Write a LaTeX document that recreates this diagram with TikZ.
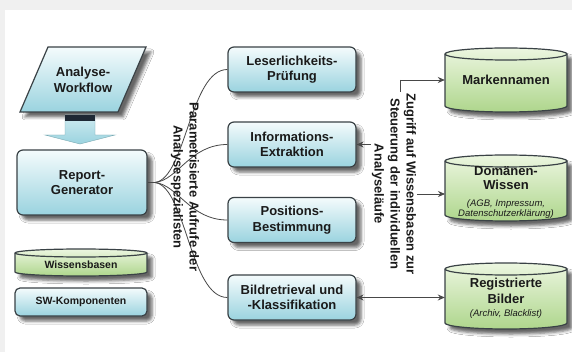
\documentclass[tikz,border=0pt]{standalone}
\usepackage{fontspec}
\setmainfont{Liberation Sans}
\usetikzlibrary{arrows.meta,shadows.blur,calc}
\definecolor{boxtop}{RGB}{244,251,252}
\definecolor{boxbot}{RGB}{154,211,223}
\definecolor{cyltop}{RGB}{236,246,224}
\definecolor{cylbot}{RGB}{174,214,140}
\definecolor{edge}{RGB}{58,66,70}
\definecolor{txt}{RGB}{26,26,26}
\definecolor{conn}{RGB}{72,72,72}
\definecolor{frame}{RGB}{240,240,240}
\definecolor{band}{RGB}{30,40,52}
\newcommand\smi{\itshape\mdseries\fontsize{9.5}{10.5}\selectfont}
\newcommand\drawcyl[5]{%
  \path[cylfill] (#1,{#2+#5}) -- (#1,{#4-#5})
     arc[start angle=180,end angle=0,x radius={(#3-#1)/2},y radius=#5]
     -- (#3,{#2+#5})
     arc[start angle=0,end angle=-180,x radius={(#3-#1)/2},y radius=#5] -- cycle;
  \draw[cyledge] (#1,{#2+#5}) arc[start angle=180,end angle=0,x radius={(#3-#1)/2},y radius=#5];
}
\begin{document}
\begin{tikzpicture}[x=1pt,y=-1pt,
  shd/.style={blur shadow={shadow xshift=5pt,shadow yshift=-5pt,shadow blur radius=3pt,shadow opacity=60}},
  comp/.style={draw=edge,line width=1.2pt,rounded corners=6pt,top color=boxtop,bottom color=boxbot,shd,
     minimum width=128pt,minimum height=45pt,align=center,inner sep=1pt,
     font=\bfseries\fontsize{13}{15.5}\selectfont,text=txt},
  cylfill/.style={draw=edge,line width=1.2pt,top color=cyltop,bottom color=cylbot,shd},
  cyledge/.style={draw=edge,line width=1.2pt},
  cyltxt/.style={align=center,inner sep=0pt,font=\bfseries\fontsize{13}{14}\selectfont,text=txt},
  conn/.style={draw=conn,line width=0.8pt},
  tip/.style={-{Stealth[length=7pt,width=6pt]}},
  vtext/.style={rotate=-90,align=center,inner sep=1pt,font=\bfseries\fontsize{13}{16}\selectfont,text=txt}
]
\useasboundingbox (0,0) rectangle (572,352);
\fill[frame] (0,0) rectangle (572,352);
\fill[white] (5,10) rectangle (572,352);

% Analyse-Workflow parallelogram
\path[draw=edge,line width=1.2pt,top color=boxtop,bottom color=boxbot,shd]
  (48,47) -- (146,47) -- (118,112) -- (20,112) -- cycle;
\node[align=center,font=\bfseries\fontsize{13}{16}\selectfont,text=txt] (aw) at (83,80) {Analyse-\\Workflow};

% fat arrow
\path[top color=boxtop!60!boxbot,bottom color=boxbot,draw=boxbot!80!black,line width=0.4pt]
  (65,115) -- (95,115) -- (95,135) -- (115,135) -- (80,144) -- (45,135) -- (65,135) -- cycle;
\fill[band] (65,115) rectangle (95,121);

% Report-Generator
\node[comp,minimum width=130pt,minimum height=65pt] (rg) at (82,182.5) {Report-\\Generator};

% legend
\drawcyl{15}{249}{147}{276}{4}
\node[cyltxt,font=\bfseries\fontsize{10.5}{12}\selectfont] (wb) at (81,265) {Wissensbasen};
\node[comp,minimum width=132pt,minimum height=28pt,rounded corners=5pt,
  font=\bfseries\fontsize{10.5}{12}\selectfont] (sw) at (81,302) {SW-Komponenten};

% middle components
\node[comp] (lp) at (292,69.5) {Leserlichkeits-\\Prüfung};
\node[comp] (ie) at (292,144.5) {Informations-\\Extraktion};
\node[comp] (pb) at (292,220) {Positions-\\Bestimmung};
\node[comp] (bk) at (292,297.5) {Bildretrieval und\\-Klassifikation};

% knowledge bases
\drawcyl{445}{48}{567}{112}{6}
\node[cyltxt,minimum width=122pt,minimum height=64pt] (mk) at (506,80) {Markennamen};
\drawcyl{445}{155}{567}{221}{6}
\node[cyltxt,minimum width=122pt] (dw) at (506,192) {Domänen-\\Wissen\\[3pt]{\smi (AGB, Impressum,}\\[-4pt]{\smi Datenschutzerklärung)}};
\drawcyl{445}{263}{567}{329}{6}
\node[cyltxt,minimum width=122pt] (rb) at (506,298) {Registrierte\\[2pt]Bilder\\[-1pt]{\smi (Archiv, Blacklist)}};

% left fan
\coordinate (j) at (155,182.5);
\draw[conn] (rg.east) -- (j);
\draw[conn] (j) .. controls (186,178) and (190,69.5) .. (lp.west);
\draw[conn] (j) .. controls (178,180) and (190,144.5) .. (ie.west);
\draw[conn] (j) .. controls (178,185) and (190,220) .. (pb.west);
\draw[conn] (j) .. controls (186,187) and (190,297.5) .. (bk.west);
\node[vtext] (t1) at (185,187) {Parametrisierte Aufrufe der\\Analysespezialisten};

% right connectors
\coordinate (vt) at (400,80);
\coordinate (vb) at (400,270);
\coordinate (dwin) at (445,194);
\draw[conn] (vt) -- (vb);
\draw[conn,tip] (vt) -- (mk.west);
\draw[conn,tip] (vt |- ie.east) -- (ie.east);
\draw[conn,tip] (vt |- dwin) -- (dwin);
\draw[conn,{Stealth[length=7pt,width=6pt]}-{Stealth[length=7pt,width=6pt]}] (bk.east) -- (rb.west |- bk.east);
\node[vtext,fill=white] (t2) at (394,184) {Zugriff auf Wissensbasen zur\\Steuerung der individuellen\\Analyseläufe};
\end{tikzpicture}
\end{document}
